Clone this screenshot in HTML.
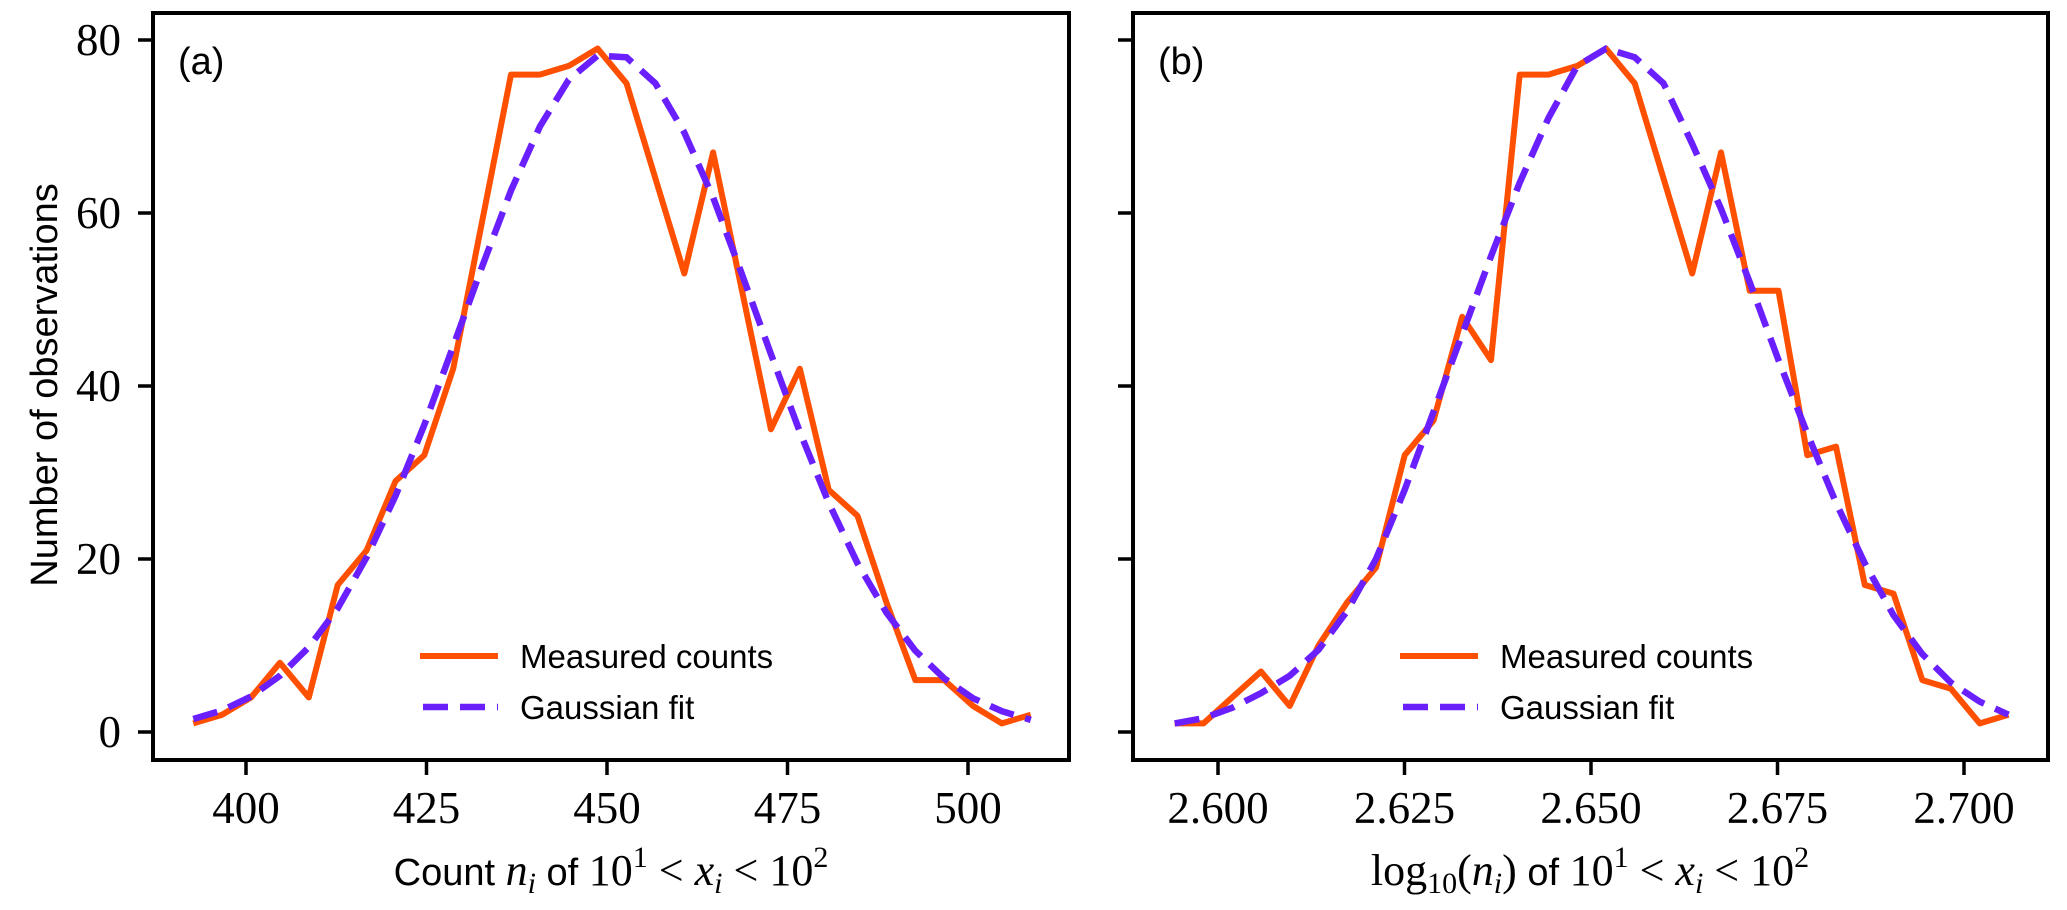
<!DOCTYPE html>
<html><head><meta charset="utf-8">
<style>
html,body{margin:0;padding:0;background:#fff;}
svg{display:block;}
.tick{font-family:"Liberation Serif",serif;font-size:45px;fill:#000;}
.sans{font-family:"Liberation Sans",sans-serif;fill:#000;}
.math{font-family:"Liberation Serif",serif;fill:#000;}
</style></head>
<body>
<svg id="chart" width="2067" height="910" viewBox="0 0 2067 910" xmlns="http://www.w3.org/2000/svg">
<rect width="2067" height="910" fill="#fff"/>
<g id="panelA"></g>
<g id="panelB"></g>
<text class="sans" font-size="38" transform="translate(57,385) rotate(-90)" text-anchor="middle">Number of observations</text>
<text x="611" y="885" text-anchor="middle" font-size="44"><tspan class="sans" font-size="38">Count </tspan><tspan class="math" font-style="italic">n</tspan><tspan class="math" font-style="italic" font-size="30" dy="8">i</tspan><tspan class="sans" font-size="38" dy="-8"> of </tspan><tspan class="math">10</tspan><tspan class="math" font-size="30" dy="-18">1</tspan><tspan class="math" dy="18"> &lt; </tspan><tspan class="math" font-style="italic">x</tspan><tspan class="math" font-style="italic" font-size="30" dy="8">i</tspan><tspan class="math" dy="-8"> &lt; 10</tspan><tspan class="math" font-size="30" dy="-18">2</tspan></text>
<text x="1590" y="885" text-anchor="middle" font-size="44"><tspan class="math">log</tspan><tspan class="math" font-size="30" dy="8">10</tspan><tspan class="math" dy="-8">(</tspan><tspan class="math" font-style="italic">n</tspan><tspan class="math" font-style="italic" font-size="30" dy="8">i</tspan><tspan class="math" dy="-8">)</tspan><tspan class="sans" font-size="38"> of </tspan><tspan class="math">10</tspan><tspan class="math" font-size="30" dy="-18">1</tspan><tspan class="math" dy="18"> &lt; </tspan><tspan class="math" font-style="italic">x</tspan><tspan class="math" font-style="italic" font-size="30" dy="8">i</tspan><tspan class="math" dy="-8"> &lt; 10</tspan><tspan class="math" font-size="30" dy="-18">2</tspan></text>
</svg>
<script>
// Panel (a) data
const countsA = [1,2,4,8,4,17,21,29,32,42,59,76,76,77,79,75,64,53,67,51,35,42,28,25,15,6,6,3,1,2];
const fitA = [1.5,2.5,4.1,6.5,9.8,14.3,20.2,27.3,35.5,44.6,53.8,62.6,70.0,75.4,78.2,78.0,75.0,69.3,61.8,52.9,43.7,34.7,26.5,19.5,13.8,9.4,6.2,3.9,2.4,1.4];
const binStartA = 392.7;
const binStepA = 4.0;
const xTicksA = [400,425,450,475,500];
const xTickLabelsA = ["400","425","450","475","500"];
// Panel (b) data
const countsB = [1,1,4,7,3,10,15,19,32,36,48,43,76,76,77,79,75,64,53,67,51,51,32,33,17,16,6,5,1,2];
const fitB = [1.0,1.6,2.8,4.5,6.5,9.5,14,20,28,37,46,55,63.5,71,77,79,78,75,68,60.5,52,43,34.5,26.5,19.5,13.5,9,5.7,3.5,2];
const binStartB = 2.5942;
const binStepB = 0.003854;
const xTicksB = [2.600,2.625,2.650,2.675,2.700];
const xTickLabelsB = ["2.600","2.625","2.650","2.675","2.700"];
// Shared y axis
const yTicks = [0,20,40,60,80];
const yTickLabels = ["0","20","40","60","80"];

const NS = "http://www.w3.org/2000/svg";
const TOP = 13, BOTTOM = 760;
function yScale(v){ return 732 - v * (692/80); }
function mk(tag, attrs, parent){
  const e = document.createElementNS(NS, tag);
  for (const k in attrs) e.setAttribute(k, attrs[k]);
  parent.appendChild(e);
  return e;
}
function drawPanel(g, left, right, x0, x0px, pxPerUnit, start, step, counts, fit, ticks, tickLabels, showYLabels, tag){
  const xs = v => x0px + (v - x0) * pxPerUnit;
  // lines
  let dFit = "", dCnt = "";
  for (let i = 0; i < counts.length; i++){
    const xv = start + step * i;
    dCnt += (i ? "L" : "M") + xs(xv).toFixed(1) + "," + yScale(counts[i]).toFixed(1);
  }
  for (let i = 0; i < fit.length; i++){
    const xv = start + step * i;
    dFit += (i ? "L" : "M") + xs(xv).toFixed(1) + "," + yScale(fit[i]).toFixed(1);
  }
  const lc = mk("path", {d: dCnt, fill: "none", stroke: "#ff4f00", "stroke-width": 6, "stroke-linejoin": "round"}, g);
  
  
  const lf = mk("path", {d: dFit, fill: "none", stroke: "#6a1fff", "stroke-width": 6.5, "stroke-dasharray": "25 12"}, g);
  
  
  // frame
  const fr = mk("rect", {x: left, y: TOP, width: right - left, height: BOTTOM - TOP, fill: "none", stroke: "#000", "stroke-width": 4}, g);
  
  
  // x ticks
  for (let i = 0; i < ticks.length; i++){
    const x = xs(ticks[i]);
    const t = mk("line", {x1: x, x2: x, y1: BOTTOM, y2: BOTTOM + 15, stroke: "#000", "stroke-width": 3.5}, g);
    
    
    const lb = mk("text", {x: x, y: 823, "text-anchor": "middle", class: "tick"}, g);
    lb.textContent = tickLabels[i];
    
    
  }
  // y ticks
  for (let i = 0; i < yTicks.length; i++){
    const y = yScale(yTicks[i]);
    const t = mk("line", {x1: left - 15, x2: left, y1: y, y2: y, stroke: "#000", "stroke-width": 3.5}, g);
    
    
    if (showYLabels){
      const lb = mk("text", {x: left - 32, y: y + 15, "text-anchor": "end", class: "tick"}, g);
      lb.textContent = yTickLabels[i];
      
      
    }
  }
  // panel letter
  const pl = mk("text", {x: left + 25, y: 74, class: "sans", "font-size": 38}, g);
  pl.textContent = "(" + tag + ")";
  
  
  // legend
  const l1 = mk("line", {x1: left + 267, x2: left + 345, y1: 656, y2: 656, stroke: "#ff4f00", "stroke-width": 6}, g);
  
  
  const t1 = mk("text", {x: left + 367, y: 668, class: "sans", "font-size": 33}, g);
  t1.textContent = "Measured counts";
  
  
  const l2 = mk("line", {x1: left + 270, x2: left + 345, y1: 707, y2: 707, stroke: "#6a1fff", "stroke-width": 6.5, "stroke-dasharray": "25 12"}, g);
  
  
  const t2 = mk("text", {x: left + 367, y: 719, class: "sans", "font-size": 33}, g);
  t2.textContent = "Gaussian fit";
  
  
}
drawPanel(document.getElementById("panelA"), 153, 1069, 400, 246, 7.22, binStartA, binStepA, countsA, fitA, xTicksA, xTickLabelsA, true, "a");
drawPanel(document.getElementById("panelB"), 1133, 2048, 2.600, 1218, 7460, binStartB, binStepB, countsB, fitB, xTicksB, xTickLabelsB, false, "b");
</script>
</body></html>
